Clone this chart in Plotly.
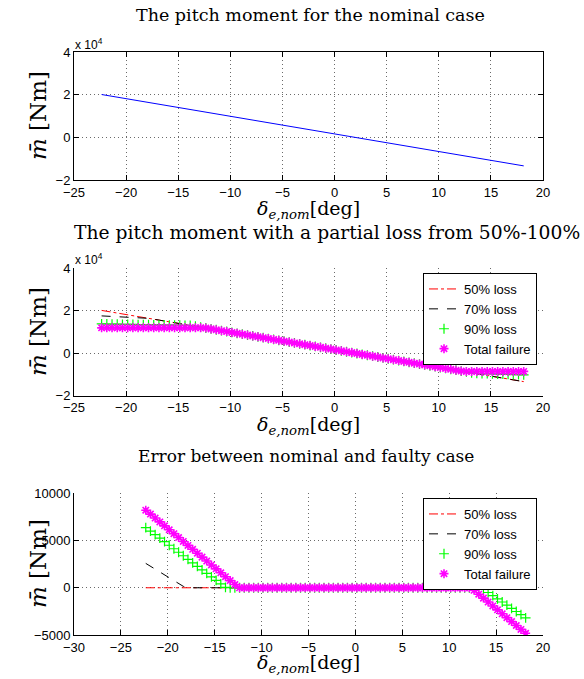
import plotly.graph_objects as go

# ---------------- data ----------------
delta_e = [
    -22.35, -21.85, -21.35, -20.85, -20.35, -19.85, -19.35, -18.85, -18.35, -17.85,
    -17.35, -16.85, -16.35, -15.85, -15.35, -14.85, -14.35, -13.85, -13.35, -12.85,
    -12.35, -11.85, -11.35, -10.85, -10.35, -9.85, -9.35, -8.85, -8.35, -7.85,
    -7.35, -6.85, -6.35, -5.85, -5.35, -4.85, -4.35, -3.85, -3.35, -2.85,
    -2.35, -1.85, -1.35, -0.85, -0.35, 0.15, 0.65, 1.15, 1.65, 2.15,
    2.65, 3.15, 3.65, 4.15, 4.65, 5.15, 5.65, 6.15, 6.65, 7.15,
    7.65, 8.15, 8.65, 9.15, 9.65, 10.15, 10.65, 11.15, 11.65, 12.15,
    12.65, 13.15, 13.65, 14.15, 14.65, 15.15, 15.65, 16.15, 16.65, 17.15,
    17.65, 18.15,
]

m_nominal = [
    20162, 19748, 19334, 18920, 18506, 18092, 17678, 17264, 16850, 16436,
    16022, 15608, 15194, 14780, 14366, 13952, 13538, 13124, 12710, 12296,
    11882, 11468, 11054, 10640, 10226, 9812, 9398, 8984, 8570, 8156,
    7742, 7328, 6914, 6500, 6086, 5672, 5258, 4844, 4430, 4016,
    3602, 3188, 2774, 2360, 1946, 1532, 1118, 704, 290, -124,
    -538, -952, -1366, -1780, -2194, -2608, -3022, -3436, -3850, -4264,
    -4678, -5092, -5506, -5920, -6334, -6748, -7162, -7576, -7990, -8404,
    -8818, -9232, -9646, -10060, -10474, -10888, -11302, -11716, -12130, -12544,
    -12958, -13372,
]

m_loss50 = [
    20162, 19748, 19334, 18920, 18506, 18092, 17678, 17264, 16850, 16436,
    16022, 15608, 15194, 14780, 14366, 13952, 13538, 13124, 12710, 12296,
    11882, 11468, 11054, 10640, 10226, 9812, 9398, 8984, 8570, 8156,
    7742, 7328, 6914, 6500, 6086, 5672, 5258, 4844, 4430, 4016,
    3602, 3188, 2774, 2360, 1946, 1532, 1118, 704, 290, -124,
    -538, -952, -1366, -1780, -2194, -2608, -3022, -3436, -3850, -4264,
    -4678, -5092, -5506, -5920, -6334, -6748, -7162, -7576, -7990, -8404,
    -8818, -9232, -9646, -10060, -10474, -10888, -11302, -11716, -12130, -12544,
    -12958, -13372,
]

m_loss70 = [
    17581, 17471, 17360, 17250, 17139, 17029, 16918, 16808, 16697, 16436,
    16022, 15608, 15194, 14780, 14366, 13952, 13538, 13124, 12710, 12296,
    11882, 11468, 11054, 10640, 10226, 9812, 9398, 8984, 8570, 8156,
    7742, 7328, 6914, 6500, 6086, 5672, 5258, 4844, 4430, 4016,
    3602, 3188, 2774, 2360, 1946, 1532, 1118, 704, 290, -124,
    -538, -952, -1366, -1780, -2194, -2608, -3022, -3436, -3850, -4264,
    -4678, -5092, -5506, -5920, -6334, -6748, -7162, -7576, -7990, -8404,
    -8818, -9232, -9646, -10060, -10474, -10888, -11302, -11716, -12130, -12544,
    -12958, -13372,
]

m_loss90 = [
    13799, 13757, 13715, 13673, 13631, 13589, 13547, 13505, 13463, 13421,
    13379, 13337, 13295, 13253, 13211, 13169, 13127, 13085, 12710, 12296,
    11882, 11468, 11054, 10640, 10226, 9812, 9398, 8984, 8570, 8156,
    7742, 7328, 6914, 6500, 6086, 5672, 5258, 4844, 4430, 4016,
    3602, 3188, 2774, 2360, 1946, 1532, 1118, 704, 290, -124,
    -538, -952, -1366, -1780, -2194, -2608, -3022, -3436, -3850, -4264,
    -4678, -5092, -5506, -5920, -6334, -6748, -7162, -7576, -7990, -8404,
    -8818, -9232, -9480, -9559, -9638, -9717, -9796, -9875, -9954, -10033,
    -10112, -10191,
]

m_total = [
    11950, 11950, 11950, 11950, 11950, 11950, 11950, 11950, 11950, 11950,
    11950, 11950, 11950, 11950, 11950, 11950, 11950, 11950, 11950, 11950,
    11882, 11468, 11054, 10640, 10226, 9812, 9398, 8984, 8570, 8156,
    7742, 7328, 6914, 6500, 6086, 5672, 5258, 4844, 4430, 4016,
    3602, 3188, 2774, 2360, 1946, 1532, 1118, 704, 290, -124,
    -538, -952, -1366, -1780, -2194, -2608, -3022, -3436, -3850, -4264,
    -4678, -5092, -5506, -5920, -6334, -6748, -7162, -7576, -7990, -8404,
    -8550, -8550, -8550, -8550, -8550, -8550, -8550, -8550, -8550, -8550,
    -8550, -8550,
]

series_names = ["50% loss", "70% loss", "90% loss", "Total failure"]

x_ticks_12 = [-25, -20, -15, -10, -5, 0, 5, 10, 15, 20]
x_ticks_3 = [-30, -25, -20, -15, -10, -5, 0, 5, 10, 15, 20]
y_tickvals_12 = [-20000, 0, 20000, 40000]
y_ticktext_12 = ["\u22122", "0", "2", "4"]
y_tickvals_3 = [-5000, 0, 5000, 10000]
y_ticktext_3 = ["\u22125000", "0", "5000", "10000"]

# error between nominal and faulty case
err50 = [a - b for a, b in zip(m_nominal, m_loss50)]
err70 = [a - b for a, b in zip(m_nominal, m_loss70)]
err90 = [a - b for a, b in zip(m_nominal, m_loss90)]
errtot = [a - b for a, b in zip(m_nominal, m_total)]

# ---------------- figure ----------------
W, H = 584, 679


def px(x):
    return x / W


def py(y):
    return 1 - y / H


fig = go.Figure()

# plot 1
fig.add_trace(go.Scatter(x=delta_e, y=m_nominal, mode="lines",
                         line=dict(color="#0000FF", width=1),
                         xaxis="x", yaxis="y", showlegend=False))


def faulty_traces(ys, xa, ya, leg):
    styles = [
        dict(mode="lines", line=dict(color="#FF0000", width=1, dash="dashdot")),
        dict(mode="lines", line=dict(color="#000000", width=1, dash="dash")),
        dict(mode="markers", marker=dict(symbol="cross-thin-open", size=7, color="#00FF00",
                                         line=dict(color="#00FF00", width=1.2))),
        dict(mode="markers", marker=dict(symbol="asterisk-open", size=7.5, color="#FF00FF",
                                         line=dict(color="#FF00FF", width=1.6))),
    ]
    for name, y, st in zip(series_names, ys, styles):
        fig.add_trace(go.Scatter(x=delta_e, y=y, name=name, xaxis=xa, yaxis=ya,
                                 legend=leg, **st))


faulty_traces([m_loss50, m_loss70, m_loss90, m_total], "x2", "y2", "legend")
faulty_traces([err50, err70, err90, errtot], "x3", "y3", "legend2")

tickfont = dict(family="Liberation Sans, Arial, sans-serif", size=13, color="black")
dom_x = [px(74), px(543)]
grid = dict(showgrid=True, gridcolor="#6a6a6a", griddash="1px,3px", gridwidth=1,
            zeroline=False, ticks="inside", ticklen=5, tickcolor="black",
            showline=True, linecolor="black", linewidth=1, tickfont=tickfont,
            automargin=False)

legfont = dict(family="Liberation Sans, Arial, sans-serif", size=13, color="black")

fig.update_layout(
    width=W, height=H,
    margin=dict(l=0, r=0, t=0, b=0, pad=0, autoexpand=False),
    paper_bgcolor="white", plot_bgcolor="white",
    xaxis=dict(domain=dom_x, range=[-25, 20], tickvals=x_ticks_12, mirror="ticks",
               anchor="y", **grid),
    yaxis=dict(domain=[py(180), py(52.3)], range=[-20000, 40000], tickvals=y_tickvals_12,
               ticktext=y_ticktext_12, mirror="ticks", anchor="x", **grid),
    xaxis2=dict(domain=dom_x, range=[-25, 20], tickvals=x_ticks_12, anchor="y2", **grid),
    yaxis2=dict(domain=[py(395.7), py(268.3)], range=[-20000, 40000], tickvals=y_tickvals_12,
                ticktext=y_ticktext_12, anchor="x2", **grid),
    xaxis3=dict(domain=dom_x, range=[-30, 20], tickvals=x_ticks_3, anchor="y3", **grid),
    yaxis3=dict(domain=[py(635), py(493.3)], range=[-5000, 10000], tickvals=y_tickvals_3,
                ticktext=y_ticktext_3, anchor="x3", **grid),
    legend=dict(x=px(537), xanchor="right", y=py(273), yanchor="top",
                bordercolor="black", borderwidth=1, bgcolor="white",
                font=legfont, tracegroupgap=0, itemwidth=30),
    legend2=dict(x=px(537), xanchor="right", y=py(498), yanchor="top",
                 bordercolor="black", borderwidth=1, bgcolor="white",
                 font=legfont, tracegroupgap=0, itemwidth=30),
)

serif = "DejaVu Serif, serif"
anns = []


def ann(text, x, y, size, family=serif, xanchor="center", angle=0):
    anns.append(dict(text=text, x=px(x), y=py(y), xref="paper", yref="paper",
                     xanchor=xanchor, yanchor="middle", showarrow=False,
                     textangle=angle, font=dict(family=family, size=size, color="black")))


ann("The pitch moment for the nominal case", 310, 15, 17.5)
ann("The pitch moment with a partial loss from 50%-100%", 72, 232, 18.7, xanchor="left")
ann("Error between nominal and faulty case", 306, 456, 17)

ylab = "<i>m\u0304</i> [Nm]"
ann(ylab, 38, 116, 23, angle=-90)
ann(ylab, 38, 332, 23, angle=-90)
ann(ylab, 38, 564, 23, angle=-90)

xlab = "<i>\u03b4</i><sub><i>e,nom</i></sub>[deg]"
ann(xlab, 308, 209, 19)
ann(xlab, 308, 425, 19)
ann(xlab, 308, 663, 19)

mult = "x 10<sup>4</sup>"
ann(mult, 73, 44, 12, family="Liberation Sans, Arial, sans-serif", xanchor="left")
ann(mult, 73, 259, 12, family="Liberation Sans, Arial, sans-serif", xanchor="left")

fig.update_layout(annotations=anns)
fig.write_html(
    "out.html",
    config={"displayModeBar": False},
    post_script="document.body.style.margin='0px';document.body.style.padding='0px';",
)
